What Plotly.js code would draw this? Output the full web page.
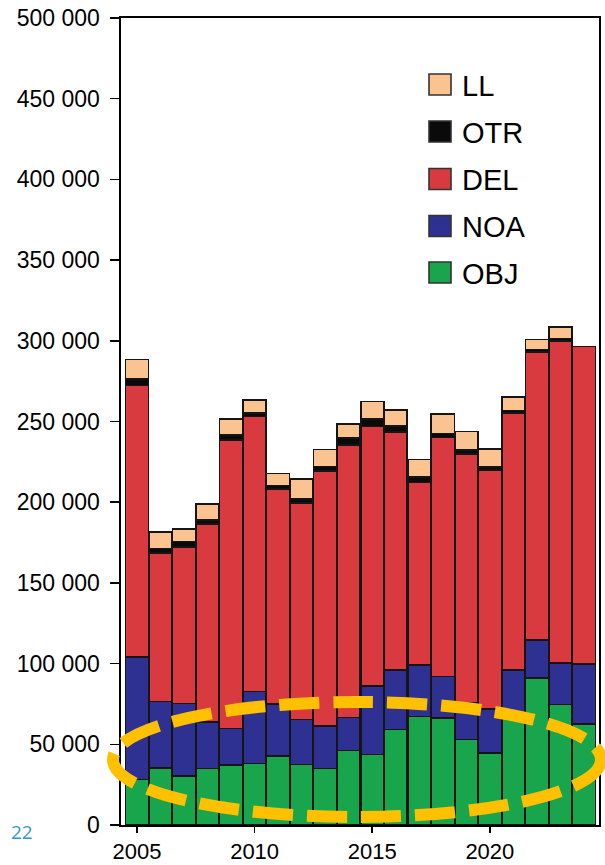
<!DOCTYPE html>
<html>
<head>
<meta charset="utf-8">
<script src="https://cdn.plot.ly/plotly-3.0.1.min.js"></script>
<style>
  html, body { margin: 0; padding: 0; background: #ffffff; }
  #chart { width: 605px; height: 865px; }
</style>
</head>
<body>
<div id="chart"></div>
<script>
// ---- Data ----
const years = [2005, 2006, 2007, 2008, 2009, 2010, 2011, 2012, 2013, 2014,
               2015, 2016, 2017, 2018, 2019, 2020, 2021, 2022, 2023, 2024];
const OBJ = [28200, 35400, 30200, 35000, 37000, 38100, 42600, 37400, 35000, 46100,
             43600, 59100, 67300, 66300, 52900, 44700, 67000, 91100, 74600, 62600];
const NOA = [75900, 41200, 45000, 28800, 22900, 44500, 32400, 27900, 26200, 20600,
             42700, 37100, 32000, 25800, 22700, 27300, 29200, 23700, 25800, 37200];
const DEL = [168300, 92000, 97100, 122600, 178800, 170400, 133000, 134100, 158200, 168800,
             160700, 147300, 112800, 148100, 154300, 147800, 158900, 178400, 199400, 196700];
const OTR = [3900, 2700, 3300, 2500, 2900, 2400, 2300, 2500, 2600, 4100,
             4400, 3700, 3700, 2300, 2500, 1900, 1600, 1500, 1700, 0];
const LL  = [12200, 10300, 7700, 9900, 10100, 8100, 7600, 12500, 10600, 8700,
             10900, 9900, 10600, 12100, 11500, 11300, 8600, 6200, 7000, 0];
const seriesNames = ["OBJ", "NOA", "DEL", "OTR", "LL"];
const legendOrder = ["LL", "OTR", "DEL", "NOA", "OBJ"];
const xTickVals = [2005, 2010, 2015, 2020];
const yTickVals = [0, 50000, 100000, 150000, 200000, 250000, 300000, 350000, 400000, 450000, 500000];
const noteText = "22";

// ---- Styles ----
const colors = {
  OBJ: "#19a54b",
  NOA: "#2e3192",
  DEL: "#d83a3f",
  OTR: "#0a0a0a",
  LL:  "#fbc38f"
};
const values = { OBJ, NOA, DEL, OTR, LL };
const FONT = "Liberation Sans, Arial, sans-serif";

const traces = seriesNames.map(name => ({
  type: "bar",
  name: name,
  x: years,
  y: values[name],
  width: 0.98,
  marker: { color: colors[name], line: { color: "#151515", width: 1.6 } },
  showlegend: false,
  hoverinfo: "x+y+name"
}));

// plot-area pixel geometry (for the overlay elements)
const L = 121, R = 6, T = 18, B = 40, W = 605, H = 865;
const pw = W - L - R, ph = H - T - B;
const px = x => (x - L) / pw;
const py = y => (H - B - y) / ph;

const shapes = [];
const annotations = [];

// custom legend (large swatches)
const rowY = [84.5, 131.5, 179, 226, 272.5];
legendOrder.forEach((name, i) => {
  const cy = rowY[i];
  shapes.push({
    type: "rect", xref: "paper", yref: "paper",
    x0: px(429), x1: px(451), y0: py(cy + 10.5), y1: py(cy - 10.5),
    fillcolor: colors[name], line: { color: "#333333", width: 1.6 }
  });
  annotations.push({
    xref: "paper", yref: "paper", x: px(460), y: py(cy + 1),
    xanchor: "left", yanchor: "middle", showarrow: false,
    text: name, font: { family: FONT, size: 29, color: "#000000" }
  });
});

// dashed highlight ellipse
shapes.push({
  type: "circle", xref: "paper", yref: "paper",
  x0: px(113), x1: px(601), y0: py(817), y1: py(702),
  line: { color: "#ffc000", width: 12, dash: "40px,14px" },
  fillcolor: "rgba(0,0,0,0)"
});

// page number
annotations.push({
  xref: "paper", yref: "paper", x: px(22), y: py(832),
  xanchor: "center", yanchor: "middle", showarrow: false,
  text: noteText, font: { family: "Open Sans, sans-serif", size: 19, color: "#3399cc" }
});

const layout = {
  width: W, height: H,
  margin: { l: L, r: R, t: T, b: B, pad: 0 },
  paper_bgcolor: "#ffffff",
  plot_bgcolor: "#ffffff",
  barmode: "stack",
  bargap: 0,
  separators: ". ",
  font: { family: FONT, color: "#000000" },
  showlegend: false,
  xaxis: {
    range: [2004.32, 2024.64],
    tickvals: xTickVals,
    ticktext: xTickVals.map(String),
    ticks: "outside", ticklen: 6, tickwidth: 1.5, tickcolor: "#000",
    showline: true, mirror: true, linecolor: "#000", linewidth: 1.6,
    showgrid: false, zeroline: false,
    tickfont: { family: FONT, size: 22, color: "#000" }
  },
  yaxis: {
    range: [0, 500000],
    tickvals: yTickVals,
    tickformat: ",d",
    ticks: "outside", ticklen: 9, tickwidth: 1.5, tickcolor: "#000",
    showline: true, mirror: true, linecolor: "#000", linewidth: 1.6,
    showgrid: false, zeroline: false,
    tickfont: { family: FONT, size: 23, color: "#000" },
    ticklabelstandoff: 6
  },
  shapes: shapes,
  annotations: annotations
};

Plotly.newPlot("chart", traces, layout, { displayModeBar: false, staticPlot: true });
</script>
</body>
</html>
